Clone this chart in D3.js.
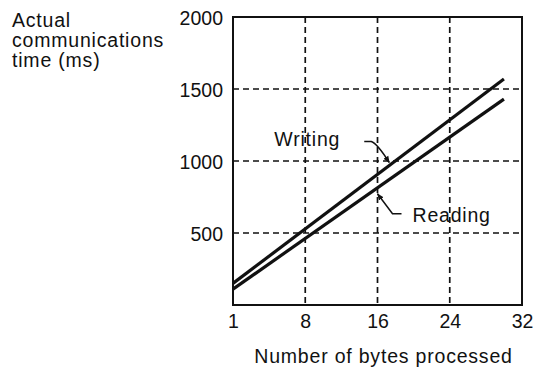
<!DOCTYPE html>
<html>
<head>
<meta charset="utf-8">
<script src="https://cdn.jsdelivr.net/npm/d3@7"></script>
<style>
  html, body { margin: 0; padding: 0; background: #fff; }
  svg { display: block; }
  text { font-family: "Liberation Sans", Arial, Helvetica, sans-serif; fill: #111; }
</style>
</head>
<body>
<svg id="chart" width="537" height="373"></svg>
<script>
// ---- data ----
const xTicks = [1, 8, 16, 24, 32];
const yTicks = [500, 1000, 1500, 2000];
const yTitleLines = ["Actual", "communications", "time (ms)"];
const xTitle = "Number of bytes processed";
const bytes = [1, 30];
const writingMs = [150, 1570];
const readingMs = [110, 1430];
const seriesNames = ["Writing", "Reading"];

// ---- layout ----
const FS = 19.5, LS = 0.8;
const svg = d3.select("#chart");
const margin = { left: 233, top: 17, right: 15, bottom: 68 };
const W = 537 - margin.left - margin.right;
const H = 373 - margin.top - margin.bottom;
const g = svg.append("g").attr("transform", `translate(${margin.left},${margin.top})`);

const x = d3.scaleLinear()
  .domain(xTicks)
  .range(xTicks.map((d, i) => i * W / (xTicks.length - 1)));
const y = d3.scaleLinear().domain([0, 2000]).range([H, 0]);

// grid
g.append("g").selectAll("line")
  .data(xTicks.slice(1, -1))
  .join("line")
  .attr("x1", d => x(d)).attr("x2", d => x(d))
  .attr("y1", 0).attr("y2", H)
  .attr("stroke", "#111").attr("stroke-width", 1.7)
  .attr("stroke-dasharray", "6,4");
g.append("g").selectAll("line")
  .data(yTicks.slice(0, -1))
  .join("line")
  .attr("x1", 0).attr("x2", W)
  .attr("y1", d => y(d)).attr("y2", d => y(d))
  .attr("stroke", "#111").attr("stroke-width", 1.7)
  .attr("stroke-dasharray", "6,4");

// axes
const yAxis = g.append("g")
  .call(d3.axisLeft(y).tickValues(yTicks).tickSize(0).tickPadding(10).tickFormat(d3.format("d")));
yAxis.select(".domain").remove();
yAxis.selectAll("text").attr("font-size", FS).attr("fill", "#111")
  .attr("font-family", "'Liberation Sans', Arial, sans-serif").attr("dy", "0.38em");

const xAxis = g.append("g").attr("transform", `translate(0,${H})`)
  .call(d3.axisBottom(x).tickValues(xTicks).tickSize(0).tickPadding(9).tickFormat(d3.format("d")));
xAxis.select(".domain").remove();
xAxis.selectAll("text").attr("font-size", FS).attr("fill", "#111")
  .attr("font-family", "'Liberation Sans', Arial, sans-serif");

// frame
g.append("rect").attr("x", 0).attr("y", 0).attr("width", W).attr("height", H)
  .attr("fill", "none").attr("stroke", "#111").attr("stroke-width", 2);

// lines
const line = d3.line().x(d => x(d[0])).y(d => y(d[1]));
const series = [writingMs, readingMs].map(v => bytes.map((b, i) => [b, v[i]]));
g.append("g").selectAll("path")
  .data(series)
  .join("path")
  .attr("d", line)
  .attr("fill", "none").attr("stroke", "#111").attr("stroke-width", 3.2);

// arrow marker
svg.append("defs").append("marker")
  .attr("id", "arr").attr("viewBox", "0 0 10 10").attr("refX", 9).attr("refY", 5)
  .attr("markerWidth", 7).attr("markerHeight", 7).attr("markerUnits", "userSpaceOnUse")
  .attr("orient", "auto")
  .append("path").attr("d", "M0,1 L10,5 L0,9 Z").attr("fill", "#111");

// annotations (tips positioned on lines through scales)
const lerp = (arr, xv) => arr[0] + (arr[1] - arr[0]) * (x(xv) - x(bytes[0])) / (x(bytes[1]) - x(bytes[0]));
const wTip = [x(17.3), y(lerp(writingMs, 17.3)) - 3];
const rTip = [x(16), y(lerp(readingMs, 16)) + 6];

g.append("path")
  .attr("d", `M${wTip[0]-25},${wTip[1]-21} L${wTip[0]-18},${wTip[1]-21} Q${wTip[0]-12},${wTip[1]-19} ${wTip[0]},${wTip[1]}`)
  .attr("fill", "none").attr("stroke", "#111").attr("stroke-width", 1.5)
  .attr("marker-end", "url(#arr)");
g.append("text").attr("x", wTip[0] - 49).attr("y", wTip[1] - 16)
  .attr("text-anchor", "end").attr("font-size", FS).attr("letter-spacing", LS)
  .text(seriesNames[0]);

g.append("path")
  .attr("d", `M${rTip[0]+24},${rTip[1]+20} L${rTip[0]+15},${rTip[1]+20} L${rTip[0]},${rTip[1]}`)
  .attr("fill", "none").attr("stroke", "#111").attr("stroke-width", 1.5)
  .attr("marker-end", "url(#arr)");
g.append("text").attr("x", rTip[0] + 35).attr("y", rTip[1] + 28)
  .attr("font-size", FS).attr("letter-spacing", LS)
  .text(seriesNames[1]);

// titles
svg.append("g").selectAll("text")
  .data(yTitleLines)
  .join("text")
  .attr("x", 12).attr("y", (d, i) => 27 + i * 20)
  .attr("font-size", FS).attr("letter-spacing", LS)
  .text(d => d);

svg.append("text")
  .attr("x", margin.left + W / 2 + 6).attr("y", 363)
  .attr("text-anchor", "middle").attr("font-size", FS).attr("letter-spacing", LS)
  .text(xTitle);
</script>
</body>
</html>
